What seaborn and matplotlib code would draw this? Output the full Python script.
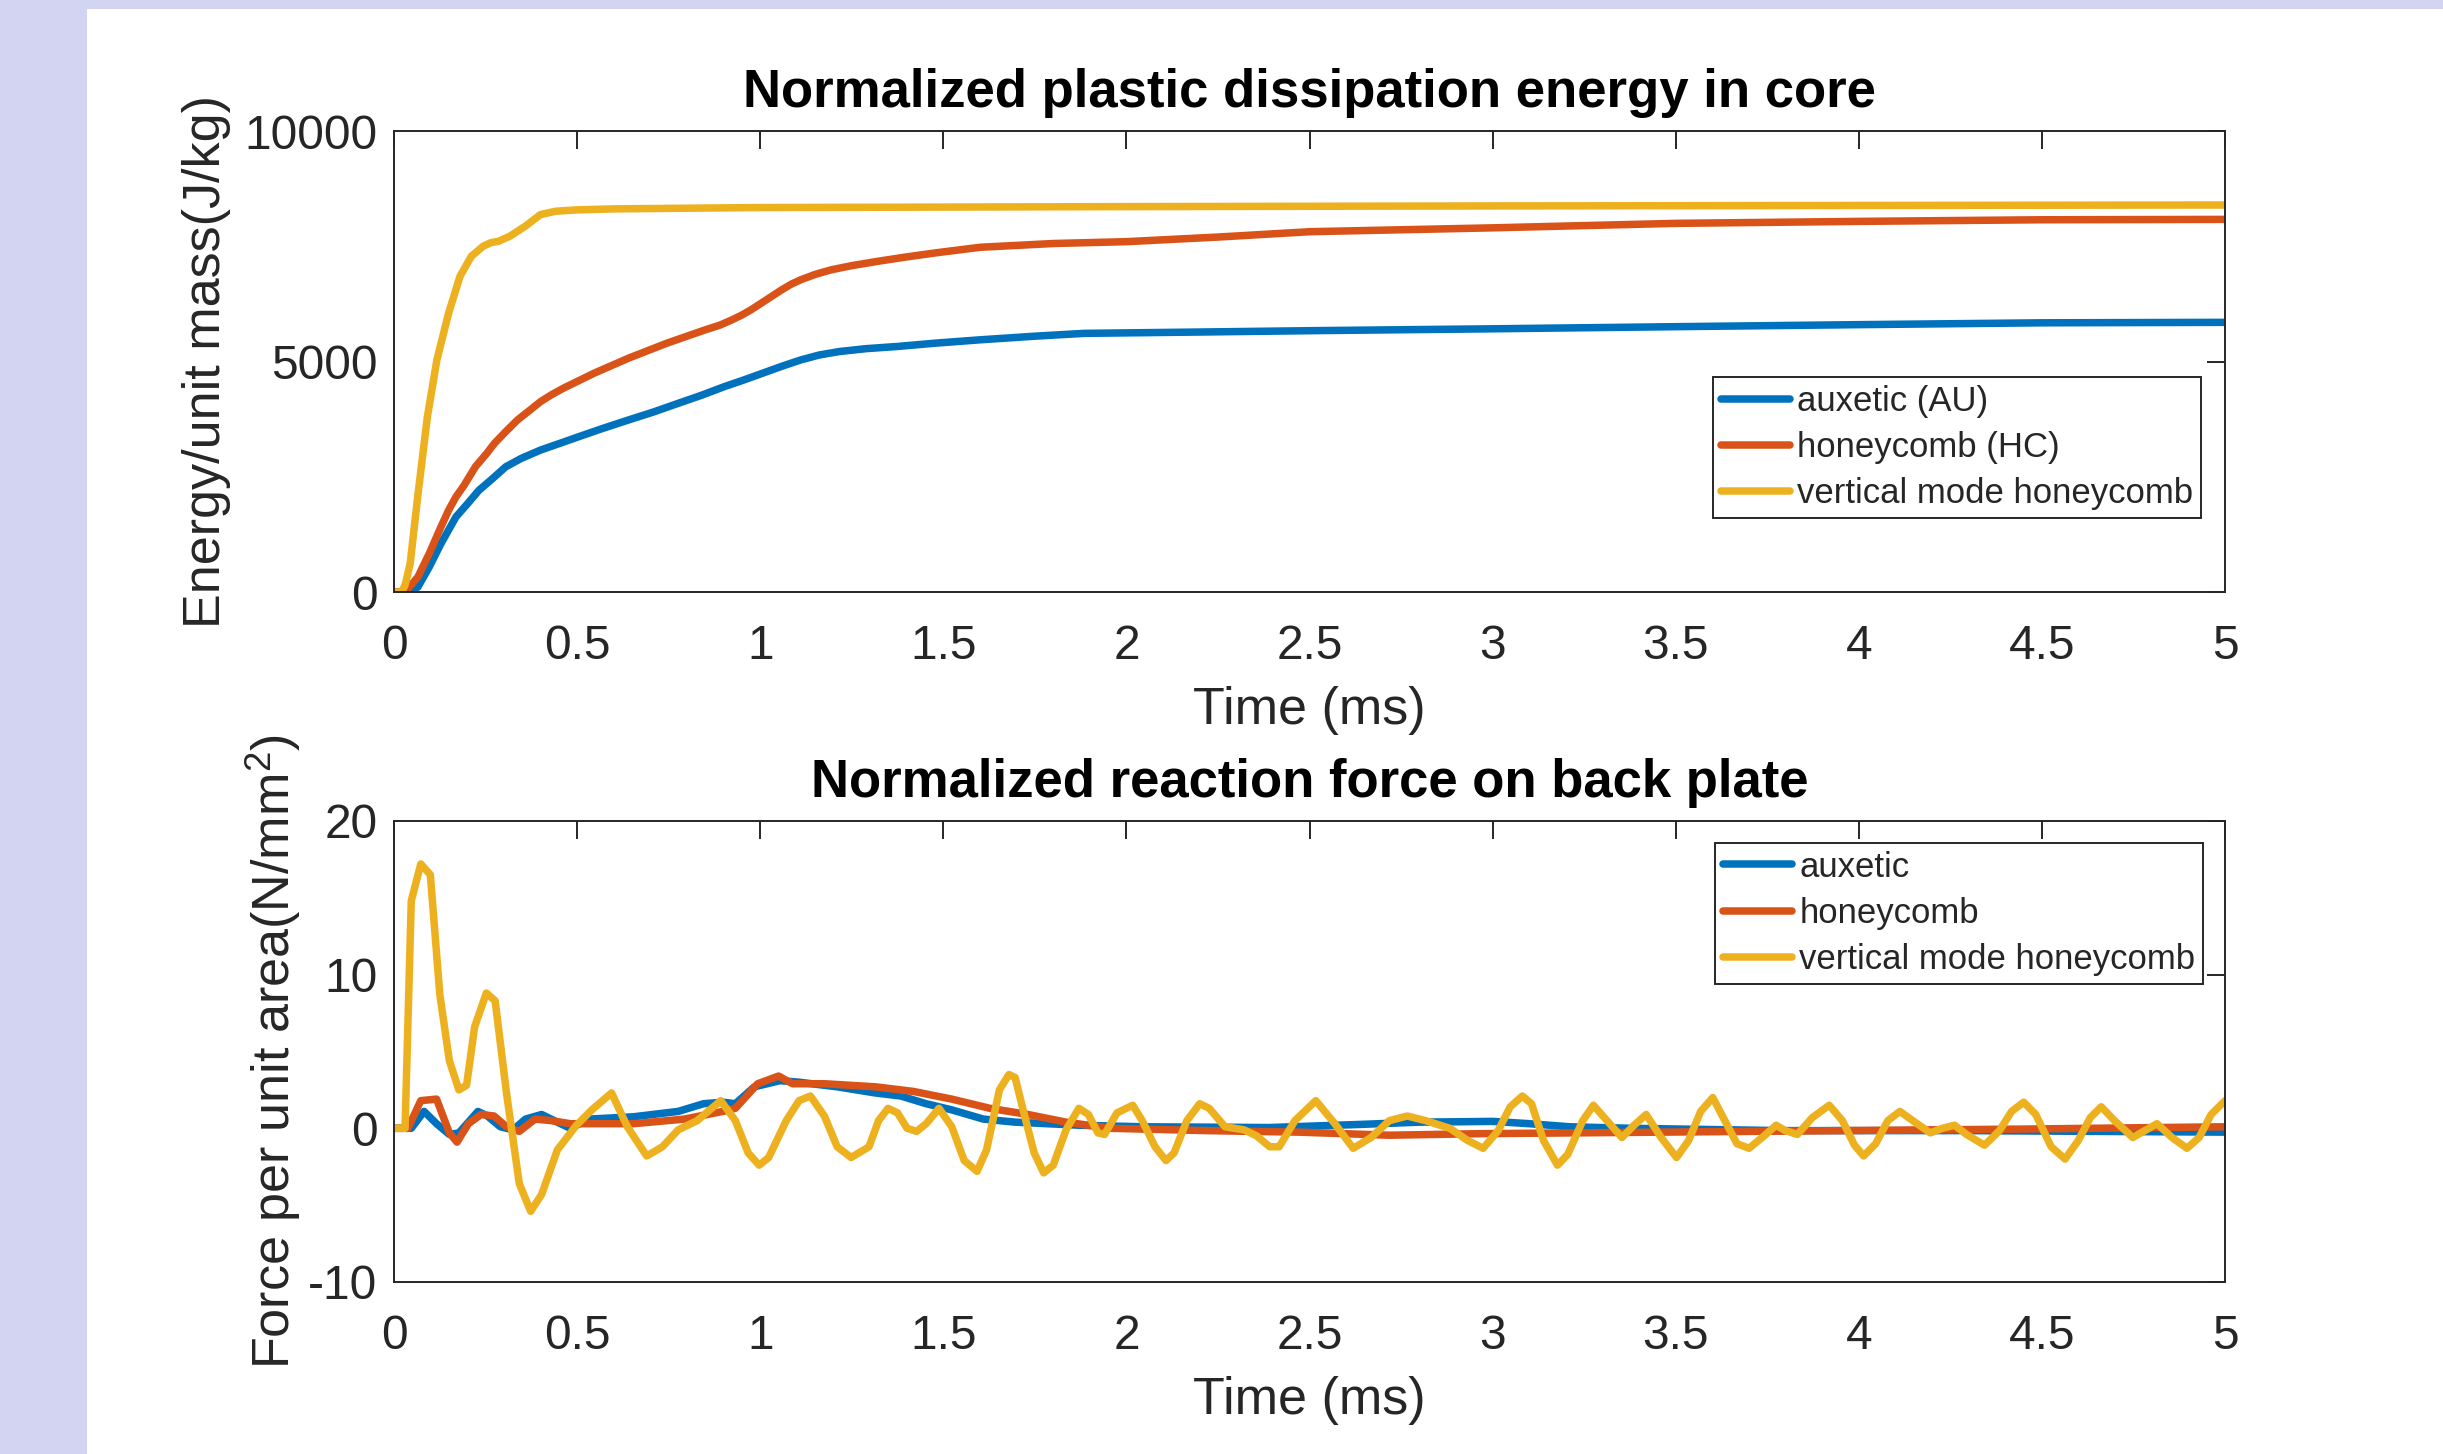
import numpy as np
import pandas as pd
import matplotlib
matplotlib.use("Agg")
import matplotlib.pyplot as plt
import seaborn as sns
from matplotlib.patches import Rectangle

# ============================================
# DATA
# ============================================

names_energy = ["auxetic (AU)", "honeycomb (HC)", "vertical mode honeycomb"]
names_force = ["auxetic", "honeycomb", "vertical mode honeycomb"]
line_colors = ["#0072BD", "#D95319", "#EDB120"]

x_ticks = [0, 0.5, 1, 1.5, 2, 2.5, 3, 3.5, 4, 4.5, 5]
x_tick_labels = ["0", "0.5", "1", "1.5", "2", "2.5", "3", "3.5", "4", "4.5", "5"]
energy_ticks = [0, 5000, 10000]
force_ticks = [-10, 0, 10, 20]

# --- plastic dissipation energy (J/kg) ---
t_energy_au = [0, 0.04, 0.065, 0.096, 0.128, 0.169, 0.201, 0.232, 0.264, 0.305, 0.347,
               0.4, 0.452, 0.504, 0.57, 0.64, 0.71, 0.776, 0.84, 0.902, 0.955, 1.006,
               1.06, 1.111, 1.16, 1.216, 1.29, 1.373, 1.48, 1.6, 1.75, 1.884, 2.2,
               2.5, 3.0, 3.5, 4.0, 4.5, 5.0]
energy_au = [0, 0, 109, 543, 1050, 1630, 1920, 2210, 2427, 2717, 2898,
             3080, 3224, 3369, 3550, 3732, 3910, 4094, 4270, 4456, 4600, 4746,
             4900, 5036, 5140, 5217, 5280, 5326, 5400, 5471, 5550, 5611, 5640,
             5669, 5710, 5756, 5800, 5840, 5850]

t_energy_hc = [0, 0.03, 0.065, 0.096, 0.128, 0.149, 0.169, 0.19, 0.222, 0.253, 0.274,
               0.305, 0.337, 0.37, 0.4, 0.43, 0.462, 0.546, 0.64, 0.745, 0.85, 0.89,
               0.923, 0.95, 0.975, 1.017, 1.059, 1.085, 1.111, 1.15, 1.195, 1.25,
               1.32, 1.4, 1.477, 1.6, 1.8, 2.0, 2.25, 2.5, 3.0, 3.5, 4.0, 4.5, 5.0]
energy_hc = [0, 0, 326, 833, 1413, 1775, 2065, 2300, 2717, 3007, 3224,
             3480, 3732, 3940, 4130, 4280, 4420, 4746, 5072, 5398, 5688, 5790,
             5905, 6010, 6123, 6340, 6558, 6680, 6775, 6890, 6992, 7080,
             7173, 7270, 7355, 7478, 7560, 7600, 7700, 7816, 7900, 7997, 8040, 8075, 8083]

t_energy_vm = [0, 0.02, 0.03, 0.044, 0.065, 0.091, 0.117, 0.149, 0.18, 0.211, 0.243,
               0.265, 0.285, 0.316, 0.358, 0.4, 0.441, 0.5, 0.6, 1.0, 1.5, 2.0, 3.0,
               4.0, 5.0]
energy_vm = [0, 0, 150, 616, 2100, 3800, 5036, 6050, 6847, 7282, 7500,
             7580, 7608, 7717, 7934, 8188, 8260, 8290, 8311, 8340, 8350, 8360, 8375,
             8385, 8395]

# --- reaction force on back plate (N/mm^2) ---
t_force_au = [0, 0.047, 0.082, 0.116, 0.151, 0.177, 0.203, 0.229, 0.255, 0.29, 0.325,
              0.359, 0.403, 0.446, 0.481, 0.533, 0.654, 0.776, 0.845, 0.898, 0.932,
              0.984, 1.054, 1.106, 1.21, 1.314, 1.384, 1.453, 1.523, 1.609, 1.696,
              1.87, 2.043, 2.39, 2.635, 2.8, 3.0, 3.1, 3.21, 3.38, 3.79, 4.29, 5.0]
force_au = [0, 0, 1.1, 0.3, -0.4, -0.3, 0.4, 1.1, 0.8, 0.1, -0.1,
            0.6, 0.9, 0.4, 0, 0.6, 0.75, 1.1, 1.6, 1.7, 1.6,
            2.7, 3.1, 3.0, 2.7, 2.3, 2.1, 1.6, 1.2, 0.6, 0.4,
            0.2, 0.1, 0.05, 0.25, 0.4, 0.45, 0.3, 0.1, 0, -0.15, -0.15, -0.25]

t_force_hc = [0, 0.038, 0.073, 0.116, 0.151, 0.172, 0.203, 0.238, 0.273, 0.307, 0.342,
              0.385, 0.429, 0.481, 0.654, 0.793, 0.898, 0.932, 0.993, 1.05, 1.088,
              1.175, 1.314, 1.418, 1.523, 1.627, 1.731, 1.835, 1.957, 2.217, 2.47,
              2.718, 2.965, 3.46, 3.955, 4.45, 5.0]
force_hc = [0, 0, 1.8, 1.9, -0.3, -0.9, 0.3, 0.9, 0.8, 0.1, -0.2,
            0.6, 0.5, 0.3, 0.3, 0.6, 1.1, 1.3, 2.9, 3.4, 2.9,
            2.9, 2.7, 2.4, 1.9, 1.3, 0.9, 0.4, 0, -0.15, -0.25,
            -0.45, -0.35, -0.25, -0.15, -0.05, 0.1]

t_force_vm = [0, 0.03, 0.047, 0.073, 0.099, 0.125, 0.151, 0.177, 0.198, 0.22, 0.252,
              0.276, 0.307, 0.342, 0.373, 0.403, 0.446, 0.498, 0.54, 0.594, 0.637,
              0.69, 0.733, 0.776, 0.828, 0.892, 0.932, 0.967, 0.997, 1.023, 1.071,
              1.106, 1.137, 1.175, 1.21, 1.248, 1.297, 1.323, 1.349, 1.375, 1.401,
              1.427, 1.453, 1.488, 1.523, 1.557, 1.592, 1.618, 1.653, 1.679, 1.696,
              1.722, 1.748, 1.774, 1.8, 1.835, 1.87, 1.896, 1.922, 1.94, 1.974,
              2.017, 2.043, 2.078, 2.108, 2.13, 2.165, 2.2, 2.226, 2.269, 2.321,
              2.356, 2.391, 2.417, 2.46, 2.517, 2.569, 2.619, 2.668, 2.718, 2.767,
              2.817, 2.883, 2.932, 2.974, 3.015, 3.048, 3.081, 3.106, 3.139, 3.177,
              3.205, 3.246, 3.275, 3.312, 3.353, 3.386, 3.419, 3.46, 3.502, 3.535,
              3.568, 3.601, 3.634, 3.667, 3.7, 3.741, 3.774, 3.799, 3.832, 3.873,
              3.919, 3.955, 3.988, 4.013, 4.046, 4.079, 4.112, 4.153, 4.195, 4.228,
              4.261, 4.294, 4.343, 4.384, 4.417, 4.45, 4.483, 4.525, 4.563, 4.599,
              4.632, 4.662, 4.698, 4.748, 4.781, 4.814, 4.855, 4.896, 4.929, 4.962, 5.0]
force_vm = [0, 0, 14.8, 17.2, 16.5, 8.7, 4.4, 2.5, 2.8, 6.6, 8.8,
            8.3, 2.3, -3.6, -5.4, -4.3, -1.4, 0.2, 1.2, 2.3, 0.1,
            -1.8, -1.2, -0.1, 0.5, 1.8, 0.5, -1.6, -2.4, -1.9, 0.5,
            1.8, 2.1, 0.8, -1.2, -1.9, -1.2, 0.5, 1.3, 1.0, 0,
            -0.2, 0.3, 1.3, 0.1, -2.1, -2.8, -1.4, 2.5, 3.5, 3.3,
            0.8, -1.6, -2.9, -2.4, -0.1, 1.3, 0.9, -0.3, -0.4, 1.0,
            1.5, 0.5, -1.2, -2.1, -1.6, 0.5, 1.6, 1.3, 0.1, -0.1,
            -0.5, -1.2, -1.2, 0.5, 1.8, 0.3, -1.3, -0.6, 0.5, 0.8,
            0.5, 0, -0.8, -1.3, -0.15, 1.4, 2.1, 1.6, -0.8, -2.4,
            -1.7, 0.5, 1.5, 0.5, -0.6, 0.2, 0.9, -0.6, -1.9, -0.8,
            1.1, 2.0, 0.5, -1.0, -1.3, -0.5, 0.2, -0.15, -0.4, 0.7,
            1.5, 0.5, -1.1, -1.8, -1.0, 0.5, 1.1, 0.4, -0.3, 0,
            0.2, -0.4, -1.1, -0.15, 1.1, 1.7, 0.9, -1.2, -2.0, -0.8,
            0.7, 1.4, 0.5, -0.6, -0.15, 0.3, -0.6, -1.3, -0.6, 0.9, 1.8]

# ============================================
# STYLE
# ============================================

sns.set_theme(style="white")
plt.rcParams["font.family"] = ["Liberation Sans", "DejaVu Sans"]
plt.rcParams["mathtext.fontset"] = "custom"
plt.rcParams["mathtext.rm"] = "Liberation Sans"
plt.rcParams["mathtext.it"] = "Liberation Sans:italic"
plt.rcParams["mathtext.bf"] = "Liberation Sans:bold"

AX_COLOR = "#262626"
TICK_FS = 34.5
LABEL_FS = 37.5
TITLE_FS = 38
LEGEND_FS = 25
LW = 5.4


def make_frame(t, v, name):
    return pd.DataFrame({"time": t, "value": v, "series": name})


def style_axes(ax, yticks, ylim):
    ax.set_xlim(0, 5)
    ax.set_ylim(*ylim)
    ax.set_xticks(x_ticks)
    ax.set_xticklabels(x_tick_labels)
    ax.set_yticks(yticks)
    ax.set_yticklabels([f"{v:g}" for v in yticks])
    ax.tick_params(axis="both", which="both", direction="in", length=13, width=1.4,
                   top=True, right=True, colors=AX_COLOR, labelsize=TICK_FS,
                   labelcolor=AX_COLOR)
    ax.tick_params(axis="x", pad=23)
    ax.tick_params(axis="y", pad=12)
    for sp in ax.spines.values():
        sp.set_visible(True)
        sp.set_color(AX_COLOR)
        sp.set_linewidth(1.4)
    ax.grid(False)


def add_legend(ax, loc, anchor):
    leg = ax.legend(loc=loc, bbox_to_anchor=anchor, fontsize=LEGEND_FS, frameon=True,
                    fancybox=False, framealpha=1, edgecolor=AX_COLOR, borderaxespad=0,
                    handlelength=2.0, handletextpad=0.2, borderpad=0.22, labelspacing=0.38)
    leg.get_frame().set_linewidth(1.4)
    return leg


# ============================================
# FIGURE
# ============================================

fig = plt.figure(figsize=(24.43, 14.54), dpi=100)
fig.patch.set_facecolor("white")
fig.patches.append(Rectangle((0, 0), 87 / 2443, 1, transform=fig.transFigure,
                             facecolor="#d3d3f2", edgecolor="none", zorder=0))
fig.patches.append(Rectangle((0, 1 - 9 / 1454), 1, 9 / 1454, transform=fig.transFigure,
                             facecolor="#d3d3f2", edgecolor="none", zorder=0))

ax_top = fig.add_axes([0.1613, 0.5928, 0.7495, 0.3171])
ax_bot = fig.add_axes([0.1613, 0.1183, 0.7495, 0.3171])

# --- top: energy ---
energy_sets = [(t_energy_au, energy_au), (t_energy_hc, energy_hc), (t_energy_vm, energy_vm)]
for (t, v), name, col in zip(energy_sets, names_energy, line_colors):
    sns.lineplot(data=make_frame(t, v, name), x="time", y="value", ax=ax_top,
                 color=col, linewidth=LW, label=name, estimator=None, sort=False)

style_axes(ax_top, energy_ticks, (0, 10000))
ax_top.set_title("Normalized plastic dissipation energy in core", fontsize=TITLE_FS,
                 fontweight="bold", color="black", pad=17.5)
ax_top.set_xlabel("Time (ms)", fontsize=LABEL_FS, color=AX_COLOR, labelpad=12)
ax_top.set_ylabel("Energy/unit mass(J/kg)", fontsize=LABEL_FS, color=AX_COLOR)
ax_top.yaxis.set_label_coords(-0.089, 0.5)
add_legend(ax_top, "lower right", (0.9869, 0.1605))

# --- bottom: force ---
force_sets = [(t_force_au, force_au), (t_force_hc, force_hc), (t_force_vm, force_vm)]
for (t, v), name, col in zip(force_sets, names_force, line_colors):
    sns.lineplot(data=make_frame(t, v, name), x="time", y="value", ax=ax_bot,
                 color=col, linewidth=LW, label=name, estimator=None, sort=False)

style_axes(ax_bot, force_ticks, (-10, 20))
ax_bot.set_title("Normalized reaction force on back plate", fontsize=TITLE_FS,
                 fontweight="bold", color="black", pad=17.5)
ax_bot.set_xlabel("Time (ms)", fontsize=LABEL_FS, color=AX_COLOR, labelpad=12)
ax_bot.set_ylabel("Force per unit area(N/mm$^2$)", fontsize=LABEL_FS, color=AX_COLOR)
ax_bot.yaxis.set_label_coords(-0.050, 0.5)
add_legend(ax_bot, "upper right", (0.988, 0.9523))

fig.savefig("out.png", dpi=100, facecolor="white")
